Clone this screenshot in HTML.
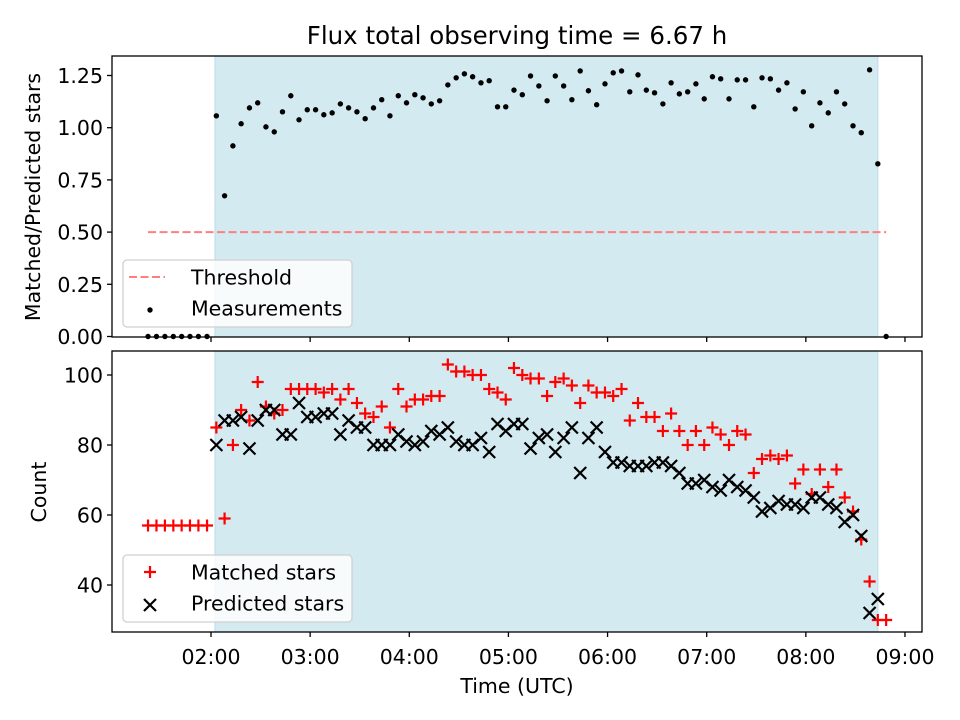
<!DOCTYPE html>
<html><head><meta charset="utf-8"><style>
body{margin:0;background:#fff}
svg{display:block;font-family:"DejaVu Sans","Liberation Sans",sans-serif}
</style></head><body>
<svg id="chart" width="960" height="720" viewBox="0 0 960 720" xmlns="http://www.w3.org/2000/svg">
<rect width="960" height="720" fill="#fff"/>
<g id="topPanel"></g>
<g id="botPanel"></g>
<text x="517" y="44" font-size="24.5" text-anchor="middle">Flux total observing time = 6.67 h</text>
<text x="517" y="693" font-size="20.5" text-anchor="middle">Time (UTC)</text>
<text transform="translate(40,197) rotate(-90)" font-size="20.5" text-anchor="middle">Matched/Predicted stars</text>
<text transform="translate(46,492) rotate(-90)" font-size="20.5" text-anchor="middle">Count</text>
</svg>
<script>
const timesPre = [1.365,1.450,1.535,1.620,1.704,1.788,1.873,1.960];
const ratioPre = [0,0,0,0,0,0,0,0];
const matchedPre = [57,57,57,57,57,57,57,57];
const times = [2.054,2.137,2.221,2.304,2.388,2.471,2.554,2.638,2.721,2.805,
2.888,2.971,3.055,3.138,3.222,3.305,3.388,3.472,3.555,3.639,
3.722,3.805,3.889,3.972,4.056,4.139,4.222,4.306,4.389,4.473,
4.556,4.639,4.723,4.806,4.890,4.973,5.056,5.140,5.223,5.307,
5.390,5.473,5.557,5.640,5.724,5.807,5.890,5.974,6.057,6.141,
6.224,6.307,6.391,6.474,6.558,6.641,6.724,6.808,6.891,6.975,
7.058,7.141,7.225,7.308,7.392,7.475,7.558,7.642,7.725,7.809,
7.892,7.975,8.059,8.142,8.226,8.309,8.392,8.476,8.559,8.643,8.726];
const ratio = [1.057,0.674,0.913,1.019,1.095,1.119,1.004,0.980,1.076,1.153,
1.038,1.086,1.086,1.062,1.071,1.114,1.095,1.076,1.043,1.095,
1.134,1.057,1.153,1.119,1.158,1.143,1.114,1.129,1.205,1.239,
1.258,1.244,1.215,1.225,1.10,1.10,1.18,
1.158,1.248,1.20,1.129,1.248,1.20,1.134,1.272,1.177,1.11,
1.21,1.263,1.272,1.172,1.253,1.18,1.167,1.114,1.215,1.162,
1.172,1.21,1.138,1.244,1.234,1.138,1.229,1.229,1.10,1.239,
1.234,1.18,1.215,1.09,1.172,1.009,1.119,1.071,1.172,1.114,
1.009,0.976,1.277,0.827];
const matched = [85,59,80,90,87,98,91,89,90,96,96,96,96,95,96,93,96,92,89,88,
91,85,96,91,93,93,94,94,103,101,101,100,100,96,95,93,102,100,99,99,
94,98,99,97,92,97,95,95,94,96,87,92,88,88,84,89,84,80,84,80,
85,83,80,84,83,72,76,77,76,77,69,73,66,73,68,73,65,61,53,41,30];
const predicted = [80,87,87,88,79,87,90,90,83,83,92,88,88,89,89,83,87,85,85,80,
80,80,83,81,80,81,84,83,85,81,80,80,82,78,86,84,86,86,79,82,
83,78,82,85,72,82,85,78,75,75,74,74,74,75,75,74,72,69,69,70,
68,67,70,68,67,65,61,62,64,63,63,62,65,65,63,62,58,60,54,32,36];
const timeLast = 8.810;
const ratioLast = 0;
const matchedLast = 30;
const xTicks = ["02:00","03:00","04:00","05:00","06:00","07:00","08:00","09:00"];
const topTicks = ["0.00","0.25","0.50","0.75","1.00","1.25"];
const botTicks = ["40","60","80","100"];
const threshold = 0.5;

const NS="http://www.w3.org/2000/svg";
function X(t){return 211+(t-2)*99.14;}
function Yt(v){return 336.5-v*208.8;}
function Yb(v){return 375-(v-100)*3.5;}
function mk(tag,attrs,parent){const e=document.createElementNS(NS,tag);for(const k in attrs)e.setAttribute(k,attrs[k]);parent.appendChild(e);return e;}
const topG=document.getElementById('topPanel'), botG=document.getElementById('botPanel');
const L=112,R=922;
const FS=20.5;
const panels=[{g:topG,y0:56,y1:337},{g:botG,y0:351,y1:632}];
panels.forEach(p=>{
  const s=mk('rect',{x:X(2.04),y:p.y0,width:X(8.727)-X(2.04),height:p.y1-p.y0,fill:'#d4eaf1',stroke:'#bcdbe6','stroke-width':1},p.g);
  
  
});
const th=mk('line',{x1:X(1.365),x2:X(8.81),y1:Yt(threshold),y2:Yt(threshold),stroke:'#ff7f7f','stroke-width':2,'stroke-dasharray':'8,3.5'},topG);


const allT=timesPre.concat(times,[timeLast]), allR=ratioPre.concat(ratio,[ratioLast]);
allT.forEach((t,i)=>{const c=mk('circle',{cx:X(t),cy:Yt(allR[i]),r:2.7,fill:'#000'},topG);
  
  });
function plus(x,y,col,g){return mk('path',{d:`M${x-6},${y}H${x+6}M${x},${y-6}V${y+6}`,stroke:col,'stroke-width':2.2,fill:'none'},g);}
function cross(x,y,col,g){return mk('path',{d:`M${x-6},${y-6}L${x+6},${y+6}M${x-6},${y+6}L${x+6},${y-6}`,stroke:col,'stroke-width':2.2,fill:'none'},g);}
const mT=timesPre.concat(times,[timeLast]), mV=matchedPre.concat(matched,[matchedLast]);
mT.forEach((t,i)=>{const p=plus(X(t),Yb(mV[i]),'#ff0000',botG);
  
  });
times.forEach((t,i)=>{const p=cross(X(t),Yb(predicted[i]),'#000',botG);
  
  });
panels.forEach((p,pi)=>{
  const f=mk('rect',{x:L,y:p.y0,width:R-L,height:p.y1-p.y0,fill:'none',stroke:'#000','stroke-width':1.3},p.g);
  
  
  xTicks.forEach((lab,i)=>{const x=X(2+i);
    mk('line',{x1:x,x2:x,y1:p.y1,y2:p.y1+5,stroke:'#000','stroke-width':1.3},p.g);
    if(pi===1){const tx=mk('text',{x:x,y:p.y1+32,'font-size':FS,'text-anchor':'middle'},p.g);tx.textContent=lab;
      
      }
  });
});
topTicks.forEach(lab=>{const y=Yt(parseFloat(lab));
  mk('line',{x1:L-5,x2:L,y1:y,y2:y,stroke:'#000','stroke-width':1.3},topG);
  const tx=mk('text',{x:L-9,y:y+7.5,'font-size':FS,'text-anchor':'end'},topG);tx.textContent=lab;
  
  });
botTicks.forEach(lab=>{const y=Yb(parseFloat(lab));
  mk('line',{x1:L-5,x2:L,y1:y,y2:y,stroke:'#000','stroke-width':1.3},botG);
  const tx=mk('text',{x:L-9,y:y+7.5,'font-size':FS,'text-anchor':'end'},botG);tx.textContent=lab;
  
  });
function legend(g,y,items){
  const b=mk('rect',{x:123,y:y,width:229,height:67,rx:4,fill:'#ffffff','fill-opacity':0.8,stroke:'#d0d0d0','stroke-width':1.3},g);
  
  
  items.forEach((it,i)=>{const cy=y+17+i*31;it.draw(150,cy);
    const t=mk('text',{x:191,y:cy+7.5,'font-size':FS},g);t.textContent=it.label;
    
    });
}
legend(topG,260,[
  {label:'Threshold',draw:(x,y)=>mk('line',{x1:x-21,x2:x+15,y1:y,y2:y,stroke:'#ff7f7f','stroke-width':2,'stroke-dasharray':'8,3.5'},topG)},
  {label:'Measurements',draw:(x,y)=>mk('circle',{cx:x,cy:y+2,r:2.7,fill:'#000'},topG)}
]);
legend(botG,555,[
  {label:'Matched stars',draw:(x,y)=>plus(x,y,'#ff0000',botG)},
  {label:'Predicted stars',draw:(x,y)=>cross(x,y+2,'#000',botG)}
]);
</script>
</body></html>
